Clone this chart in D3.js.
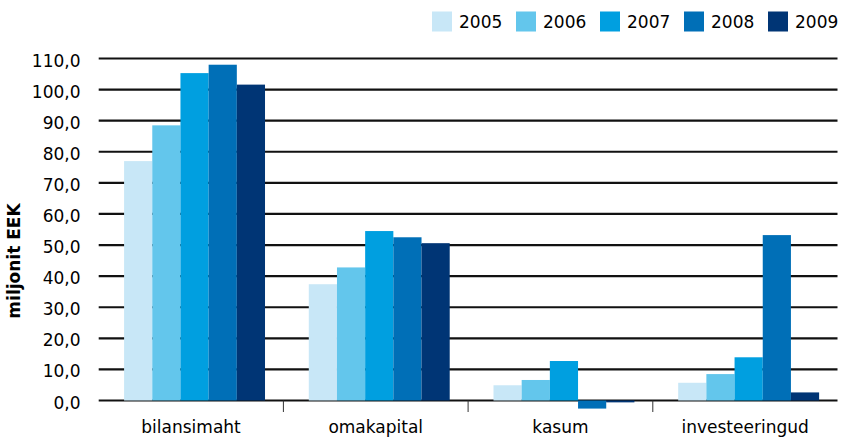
<!DOCTYPE html>
<html>
<head>
<meta charset="utf-8">
<script src="https://cdn.jsdelivr.net/npm/d3@7"></script>
<style>
  body { margin: 0; background: #fff; }
  text { font-family: "DejaVu Sans", sans-serif; fill: #000; }
</style>
</head>
<body>
<div id="vis"></div>
<script>
const width = 843, height = 438;
const categories = ["bilansimaht", "omakapital", "kasum", "investeeringud"];
const years = ["2005", "2006", "2007", "2008", "2009"];
const colors = ["#c8e7f7", "#63c6ec", "#009fe0", "#006fb7", "#003575"];
// values in miljonit EEK, one array per year (order = categories)
const v2005 = [77.0, 37.4, 4.9, 5.7];
const v2006 = [88.5, 42.8, 6.6, 8.5];
const v2007 = [105.3, 54.5, 12.7, 13.9];
const v2008 = [108.0, 52.5, -2.6, 53.2];
const v2009 = [101.6, 50.6, -0.6, 2.6];
const series = [v2005, v2006, v2007, v2008, v2009];
const yTicks = d3.range(0, 111, 10);

const svg = d3.select('#vis')
    .append('svg')
    .attr('width', width)
    .attr('height', height);

const x0 = d3.scaleBand()
    .domain(categories)
    .range([98.7, 837.5]);

const x1 = d3.scaleBand()
    .domain(years)
    .range([0, x0.bandwidth() * 0.763]);

const barShift = (x0.bandwidth() - x1.range()[1]) / 2 + 3.5;

const y = d3.scaleLinear()
    .domain([0, 110])
    .range([400.5, 58.5]);

// gridlines
svg.append("g")
    .selectAll("line")
    .data(yTicks)
    .join("line")
    .attr("x1", x0.range()[0])
    .attr("x2", x0.range()[1])
    .attr("y1", d => y(d))
    .attr("y2", d => y(d))
    .attr("stroke", "#111")
    .attr("stroke-width", 2.2);

// y tick labels
svg.append("g")
    .selectAll("text")
    .data(yTicks)
    .join("text")
    .attr("x", 80.5)
    .attr("y", d => y(d) + 8)
    .attr("text-anchor", "end")
    .style("font-size", "17px")
    .text(d => d3.format(".1f")(d).replace(".", ","));

// bars
const rows = categories.map((c, i) => ({cat: c, vals: years.map((yr, j) => ({year: yr, value: series[j][i], color: colors[j]}))}));

svg.append("g")
    .selectAll("g")
    .data(rows)
    .join("g")
    .attr("transform", d => `translate(${x0(d.cat) + barShift},0)`)
    .selectAll("rect")
    .data(d => d.vals)
    .join("rect")
    .attr("x", d => x1(d.year))
    .attr("width", x1.bandwidth())
    .attr("y", d => Math.min(y(d.value), y(0)))
    .attr("height", d => Math.abs(y(d.value) - y(0)))
    .attr("fill", d => d.color);

// category separators
svg.append("g")
    .selectAll("line")
    .data(categories.slice(1))
    .join("line")
    .attr("x1", d => x0(d))
    .attr("x2", d => x0(d))
    .attr("y1", y(0))
    .attr("y2", 412)
    .attr("stroke", "#333")
    .attr("stroke-width", 1);

// category labels
svg.append("g")
    .selectAll("text")
    .data(categories)
    .join("text")
    .attr("x", d => x0(d) + x0.bandwidth() / 2)
    .attr("y", 433)
    .attr("text-anchor", "middle")
    .style("font-size", "17px")
    .text(d => d);

// y axis title
svg.append("text")
    .attr("transform", "translate(20,261) rotate(-90)")
    .attr("text-anchor", "middle")
    .style("font-size", "17px")
    .style("font-weight", "bold")
    .text("miljonit EEK");

// legend
const legend = svg.append("g")
    .selectAll("g")
    .data(years)
    .join("g")
    .attr("transform", (d, i) => `translate(${432 + i * 84},0)`);

legend.append("rect")
    .attr("x", 0)
    .attr("y", 11.5)
    .attr("width", 20)
    .attr("height", 20)
    .attr("fill", (d, i) => colors[i]);

legend.append("text")
    .attr("x", 27)
    .attr("y", 28)
    .style("font-size", "17px")
    .text(d => d);
</script>
</body>
</html>
